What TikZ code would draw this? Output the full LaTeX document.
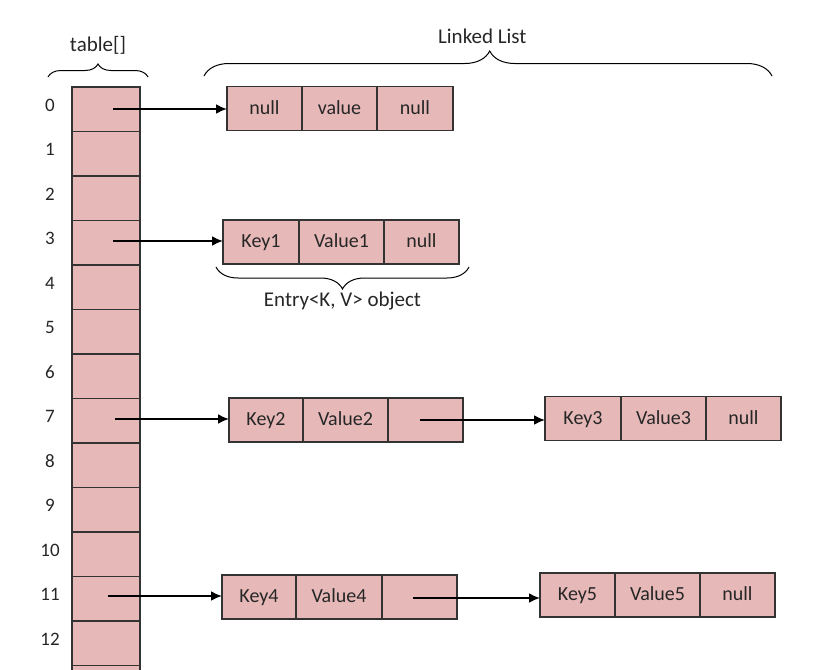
\documentclass[tikz,border=0pt]{standalone}
\usepackage{fontspec}
\setmainfont{Carlito}
\usetikzlibrary{positioning,arrows.meta,decorations.pathreplacing}

\definecolor{cellpink}{HTML}{E6B9B8}
\definecolor{edgegray}{HTML}{333333}
\definecolor{txtgray}{HTML}{262626}

\tikzset{
  slot/.style={draw=edgegray,line width=1.1pt,fill=cellpink,minimum width=68pt,minimum height=44.5pt,outer sep=0pt},
  cell/.style={draw=edgegray,line width=1.1pt,fill=cellpink,minimum height=44pt,outer sep=0pt,text=txtgray,
    text height=14pt,text depth=3pt,font=\fontsize{20}{24}\selectfont},
  ptr/.style={-{Latex[length=11pt,width=10pt]},line width=2pt},
  idx/.style={text=txtgray,font=\fontsize{19}{22}\selectfont},
  lbl/.style={text=txtgray,font=\fontsize{21}{25}\selectfont}
}

\begin{document}
\begin{tikzpicture}[x=1pt,y=-1pt]
\clip (0,0) rectangle (826,669);

% table[] column
\foreach \i in {0,...,13} {
  \node[slot] (t\i) at (106,{109.25+44.5*\i}) {};
}
\foreach \i in {0,...,12} {
  \node[idx] (r\i) at (50,{105+44.5*\i}) {\i};
}

% braces on top
\draw[line width=1pt,decorate,decoration={brace,amplitude=13pt}] (48,77) -- (148,77) node[midway,above=19pt,lbl] (tabname) {table[]};
\draw[line width=1pt,decorate,decoration={brace,amplitude=25pt,aspect=0.503}] (204,76) -- (772,76) node[pos=0.49,above=29pt,lbl] (listname) {Linked List};

% bucket 0
\node[cell,minimum width=75pt] (n0k) at (264.5,108.5) {null};
\node[cell,minimum width=75pt,right=0pt of n0k] (n0v) {value};
\node[cell,minimum width=76pt,right=0pt of n0v] (n0n) {null};

% bucket 3
\node[cell,minimum width=76pt] (n3k) at (261,242) {Key1};
\node[cell,minimum width=85pt,right=0pt of n3k] (n3v) {Value1};
\node[cell,minimum width=75pt,right=0pt of n3v] (n3n) {null};
\draw[line width=1pt,decorate,decoration={brace,amplitude=22pt}] (469,267) -- (216,267) node[midway,below=21pt,lbl] (entry) {Entry<K, V> object};

% bucket 7
\node[cell,minimum width=74pt] (n7k) at (266,420) {Key2};
\node[cell,minimum width=85pt,right=0pt of n7k] (n7v) {Value2};
\node[cell,minimum width=75pt,right=0pt of n7v] (n7n) {};
\node[cell,minimum width=76pt] (m7k) at (583,418.5) {Key3};
\node[cell,minimum width=85pt,right=0pt of m7k] (m7v) {Value3};
\node[cell,minimum width=75pt,right=0pt of m7v] (m7n) {null};

% bucket 11
\node[cell,minimum width=74pt] (n11k) at (259,597) {Key4};
\node[cell,minimum width=86pt,right=0pt of n11k] (n11v) {Value4};
\node[cell,minimum width=75pt,right=0pt of n11v] (n11n) {};
\node[cell,minimum width=75pt] (m11k) at (577.5,595) {Key5};
\node[cell,minimum width=85pt,right=0pt of m11k] (m11v) {Value5};
\node[cell,minimum width=75pt,right=0pt of m11v] (m11n) {null};

% pointers
\coordinate (p0) at (113,109);
\coordinate (p3) at (113,241);
\coordinate (p7) at (115,419);
\coordinate (p11) at (108,596);
\coordinate (q7) at (420,420);
\coordinate (q11) at (413,598);
\draw[ptr] (p0) -- (p0 -| n0k.west);
\draw[ptr] (p3) -- (p3 -| n3k.west);
\draw[ptr] (p7) -- (p7 -| n7k.west);
\draw[ptr] (p11) -- (p11 -| n11k.west);
\draw[ptr] (q7) -- (q7 -| m7k.west);
\draw[ptr] (q11) -- (q11 -| m11k.west);
\end{tikzpicture}
\end{document}
